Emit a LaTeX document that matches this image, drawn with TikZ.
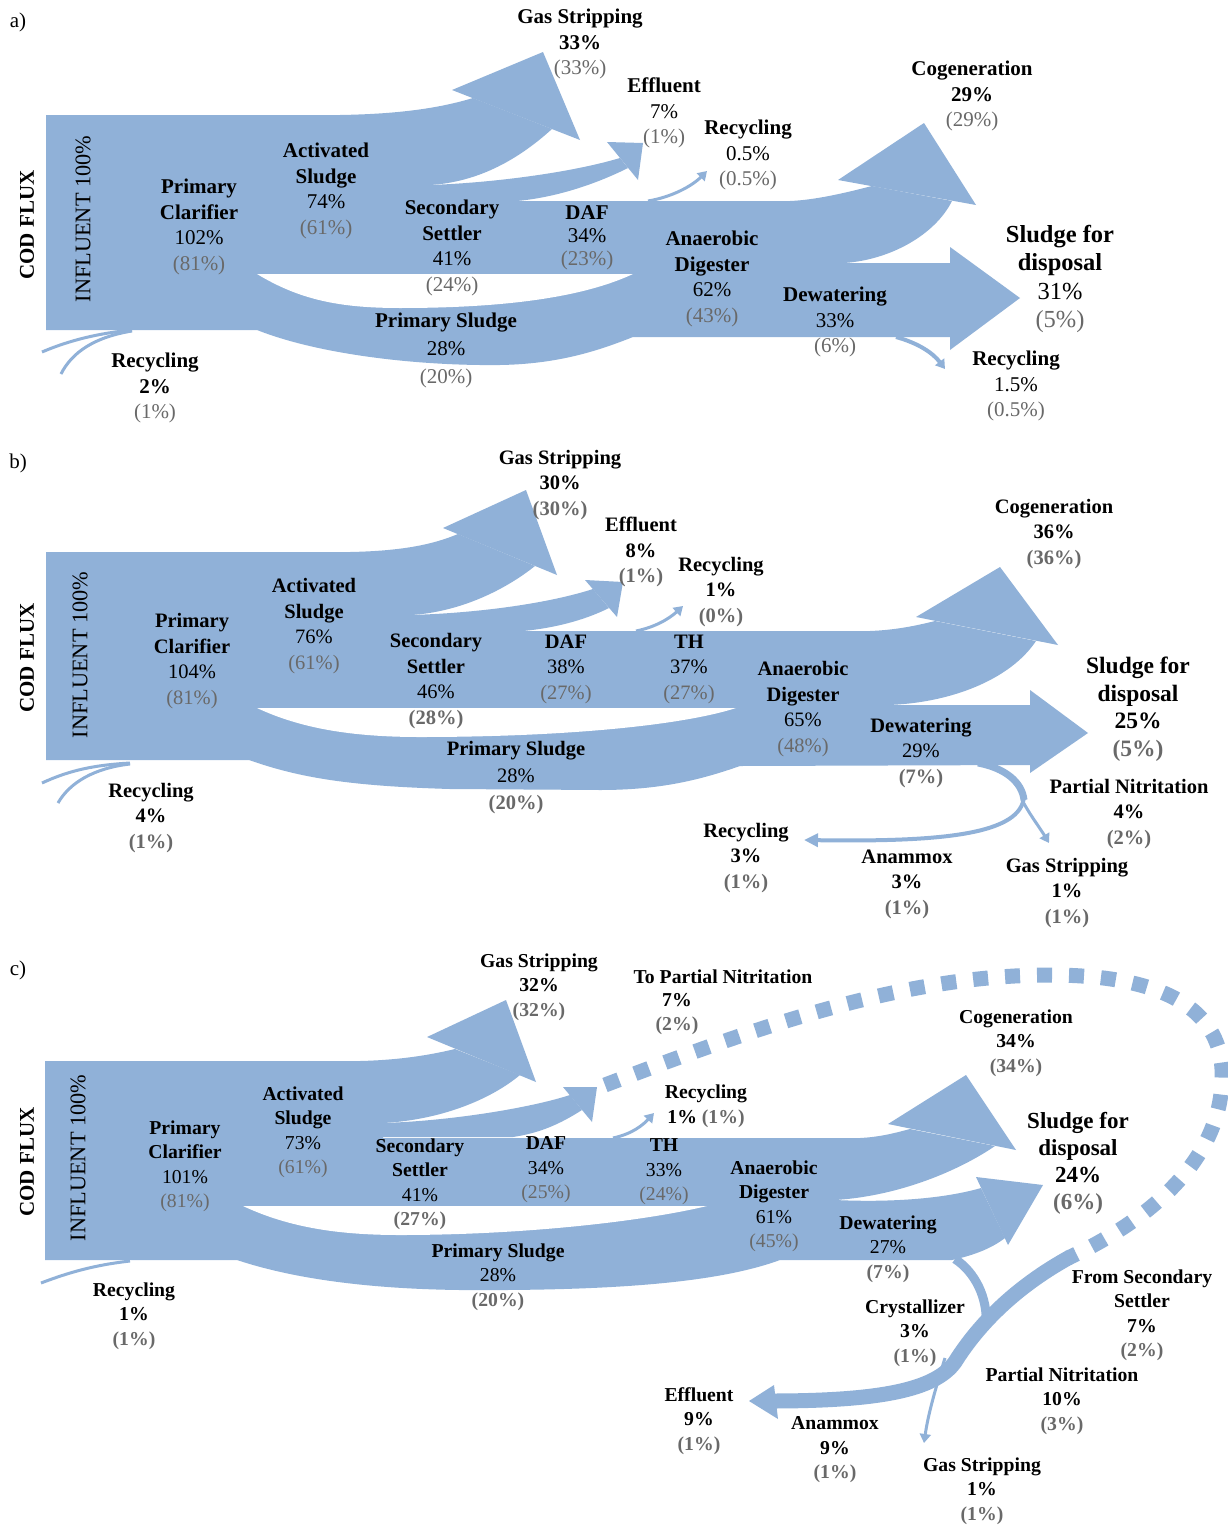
\documentclass[tikz,border=0pt]{standalone}
\usepackage{fontspec}
\setmainfont{Liberation Serif}
\usetikzlibrary{arrows.meta}
\definecolor{flowc}{RGB}{144,177,216}
\definecolor{pgray}{RGB}{105,105,105}
\newcommand{\grp}[1]{\textcolor{pgray}{#1}}
\newcommand{\grb}[1]{\textcolor{pgray}{\textbf{#1}}}
\tikzset{
  flow/.style={fill=flowc, draw=none},
  gap/.style={fill=white, draw=none},
  thinflow/.style={draw=flowc, line width=3pt, -{Triangle[length=9pt,width=11pt]}},
  band/.style={draw=flowc},
  dotband/.style={draw=flowc, line width=15pt, dash pattern=on 15pt off 17pt},
  lab/.style={align=center, inner sep=0pt, font=\fontsize{21}{25.8}\selectfont},
  labb/.style={align=center, inner sep=0pt, font=\fontsize{20.5}{25.5}\selectfont},
  labc/.style={align=center, inner sep=0pt, font=\fontsize{19.7}{24.5}\selectfont},
  big/.style={align=center, inner sep=0pt, font=\fontsize{24.5}{28.5}\selectfont},
  bigb/.style={align=center, inner sep=0pt, font=\fontsize{23.5}{27.5}\selectfont},
  bigc/.style={align=center, inner sep=0pt, font=\fontsize{23}{27}\selectfont},
  side/.style={rotate=90, inner sep=0pt, font=\fontsize{21}{25}\selectfont},
  sider/.style={rotate=90, inner sep=0pt, font=\fontsize{22.3}{25}\selectfont},
}
\begin{document}
\begin{tikzpicture}[x=1pt,y=-1pt]
\useasboundingbox (0,0) rectangle (1227,1528);
\fill[white] (0,0) rectangle (1227,1528);

%% ================= PANEL A =================
% gas stripping
\fill[flow] (46,115) -- (340,115) .. controls (400,114) and (440,108) .. (473,98) -- (552,129)
  .. controls (520,158) and (480,182) .. (430,185) -- (46,185) -- cycle;
\fill[flow] (452,90) -- (543,52) -- (580,140) -- cycle;
% effluent
\fill[flow] (430,185) .. controls (490,183) and (570,173) .. (620,158) -- (628,168)
  .. controls (600,182) and (560,197) .. (517,201) -- (430,201) -- cycle;
\fill[flow] (607,142) -- (643,143) -- (638,180) -- cycle;
% main band
\fill[flow] (46,185) -- (430,185) -- (430,201) -- (790,201) .. controls (815,200) and (845,193) .. (872,186)
  -- (952,201) .. controls (935,235) and (890,260) .. (844,263) -- (950,263) -- (950,247) -- (1020,298)
  -- (950,350) -- (950,337) -- (633,337) .. controls (600,350) and (560,364) .. (500,365)
  .. controls (420,366) and (320,355) .. (257,330) -- (46,330) -- cycle;
\fill[flow] (838,180) -- (924,123) -- (976,205) -- cycle;
\fill[gap] (257,274) -- (633,274) .. controls (590,294) and (520,308) .. (400,308)
  .. controls (340,308) and (300,300) .. (257,274) -- cycle;
% thin flows
\draw[thinflow] (648,201) .. controls (672,197) and (692,186) .. (707,171);
\draw[thinflow, line width=4pt] (896,337) .. controls (918,343) and (933,353) .. (945,369);
\draw[band, line width=3pt] (42,352) .. controls (70,340) and (100,333) .. (132,330);
\draw[band, line width=3pt] (61,374) .. controls (72,352) and (95,337) .. (132,331);

%% ================= PANEL B =================
\fill[flow] (46,552) -- (350,552) .. controls (400,551) and (432,545) .. (458,534) -- (535,566)
  .. controls (505,590) and (460,612) .. (411,615) -- (46,615) -- cycle;
\fill[flow] (443,528) -- (526,490) -- (557,575) -- cycle;
\fill[flow] (411,615) .. controls (480,613) and (550,603) .. (593,589) -- (609,608)
  .. controls (585,620) and (555,628) .. (523,631) -- (411,631) -- cycle;
\fill[flow] (585,580) -- (623,582) -- (617,617) -- cycle;
\fill[flow] (46,615) -- (411,615) -- (411,631) -- (870,631) .. controls (895,630) and (915,626) .. (935,621)
  -- (1036,641) .. controls (1010,680) and (950,703) .. (888,705) -- (1030,705) -- (1030,690) -- (1088,733)
  -- (1030,773) -- (1030,765) -- (740,766) .. controls (700,780) and (660,790) .. (600,790)
  -- (450,789) .. controls (350,786) and (300,778) .. (249,760) -- (46,760) -- cycle;
\fill[flow] (916,617) -- (1000,567) -- (1058,645) -- cycle;
\fill[gap] (257,708) -- (736,708) .. controls (680,726) and (560,737) .. (420,737)
  .. controls (350,737) and (300,728) .. (257,708) -- cycle;
\draw[thinflow] (636,631) .. controls (656,627) and (670,618) .. (683,606);
\draw[band, line width=3pt] (42,783) .. controls (70,770) and (95,765) .. (130,763);
\draw[band, line width=3pt] (58,803) .. controls (70,782) and (95,768) .. (130,764);
\draw[band, line width=7pt] (978,763) .. controls (1005,768) and (1022,782) .. (1024,800);
\draw[thinflow, line width=4pt, -{Triangle[length=14pt,width=13pt]}] (1024,796) .. controls (1022,835) and (940,842) .. (804,840);
\draw[thinflow] (1022,800) .. controls (1030,815) and (1040,828) .. (1049,843);

%% ================= PANEL C =================
\fill[flow] (45,1061) -- (360,1061) .. controls (400,1060) and (430,1055) .. (455,1049) -- (520,1075)
  .. controls (490,1100) and (440,1120) .. (383,1123) -- (45,1123) -- cycle;
\fill[flow] (427,1037) -- (506,1000) -- (536,1082) -- cycle;
\fill[flow] (383,1123) .. controls (450,1121) and (530,1108) .. (570,1095) -- (582,1110)
  .. controls (560,1124) and (540,1133) .. (513,1137) -- (383,1137) -- cycle;
\fill[flow] (563,1087) -- (597,1087) -- (592,1122) -- cycle;
\fill[flow] (45,1123) -- (383,1123) -- (383,1138) -- (860,1138) .. controls (880,1137) and (895,1133) .. (910,1129)
  -- (995,1146) .. controls (960,1170) and (900,1196) .. (835,1200) .. controls (900,1203) and (950,1197) .. (981,1188)
  -- (1005,1238) .. controls (992,1248) and (975,1255) .. (952,1260) -- (780,1260)
  .. controls (720,1282) and (620,1291) .. (460,1290) .. controls (380,1289) and (300,1281) .. (237,1260)
  -- (45,1260) -- cycle;
\fill[flow] (888,1124) -- (966,1075) -- (1016,1150) -- cycle;
\fill[flow] (976,1177) -- (1043,1185) -- (1008,1245) -- cycle;
\fill[gap] (243,1206) -- (707,1206) .. controls (640,1222) and (520,1235) .. (400,1235)
  .. controls (340,1235) and (290,1228) .. (243,1206) -- cycle;
% dotted return
\draw[dotband] (605,1085) .. controls (750,1030) and (900,975) .. (1050,975)
  .. controls (1180,975) and (1225,1020) .. (1222,1080)
  .. controls (1220,1160) and (1150,1220) .. (1068,1258);
% from secondary settler / partial nitritation / anammox
\draw[band, line width=15pt] (1070,1257) .. controls (1010,1290) and (975,1330) .. (955,1362)
  .. controls (935,1390) and (880,1401) .. (770,1401);
\fill[flow] (749,1401) -- (774,1385) -- (778,1419) -- cycle;
\draw[band, line width=9pt] (955,1259) .. controls (975,1272) and (988,1298) .. (986,1325);
\draw[thinflow] (945,1358) .. controls (935,1390) and (928,1415) .. (924,1443);
\draw[thinflow] (613,1138) .. controls (632,1134) and (643,1125) .. (654,1113);
\draw[band, line width=3pt] (41,1283) .. controls (70,1272) and (95,1265) .. (130,1261);

%% ================= LABELS A =================
\node[lab] (pa) at (18,22) {a)};
\node[side] (codA) at (27,225) {\textbf{COD FLUX}};
\node[sider] (infA) at (83,219) {INFLUENT 100\%};
\node[lab] (gsA) at (580,44) {\textbf{Gas Stripping}\\\textbf{33\%}\\\grp{(33\%)}};
\node[lab] (efA) at (664,113) {\textbf{Effluent}\\7\%\\\grp{(1\%)}};
\node[lab] (rcA1) at (748,155) {\textbf{Recycling}\\0.5\%\\\grp{(0.5\%)}};
\node[lab] (cgA) at (972,96) {\textbf{Cogeneration}\\\textbf{29\%}\\\grp{(29\%)}};
\node[big] (sdA) at (1060,279) {\textbf{Sludge for}\\\textbf{disposal}\\31\%\\\grp{(5\%)}};
\node[lab] (rcA2) at (1016,386) {\textbf{Recycling}\\1.5\%\\\grp{(0.5\%)}};
\node[lab] (asA) at (326,191) {\textbf{Activated}\\\textbf{Sludge}\\74\%\\\grp{(61\%)}};
\node[lab] (pcA) at (199,227) {\textbf{Primary}\\\textbf{Clarifier}\\102\%\\\grp{(81\%)}};
\node[lab] (ssA) at (452,248) {\textbf{Secondary}\\\textbf{Settler}\\41\%\\\grp{(24\%)}};
\node[lab, font=\fontsize{21}{23}\selectfont] (dafA) at (587,238) {\textbf{DAF}\\34\%\\\grp{(23\%)}};
\node[lab] (adA) at (712,279) {\textbf{Anaerobic}\\\textbf{Digester}\\62\%\\\grp{(43\%)}};
\node[lab] (dwA) at (835,322) {\textbf{Dewatering}\\33\%\\\grp{(6\%)}};
\node[lab, font=\fontsize{21}{28}\selectfont] (psA) at (446,350) {\textbf{Primary Sludge}\\28\%\\\grp{(20\%)}};
\node[lab] (rcA3) at (155,388) {\textbf{Recycling}\\\textbf{2\%}\\\grp{(1\%)}};

%% ================= LABELS B =================
\node[lab] (pb) at (18,463) {b)};
\node[side] (codB) at (27,658) {\textbf{COD FLUX}};
\node[sider] (infB) at (80,655) {INFLUENT 100\%};
\node[labb] (gsB) at (560,485) {\textbf{Gas Stripping}\\\textbf{30\%}\\\grb{(30\%)}};
\node[labb] (efB) at (641,552) {\textbf{Effluent}\\\textbf{8\%}\\\grb{(1\%)}};
\node[labb] (rcB1) at (721,592) {\textbf{Recycling}\\\textbf{1\%}\\\grb{(0\%)}};
\node[labb] (cgB) at (1054,534) {\textbf{Cogeneration}\\\textbf{36\%}\\\grb{(36\%)}};
\node[bigb] (sdB) at (1138,709) {\textbf{Sludge for}\\\textbf{disposal}\\\textbf{25\%}\\\grb{(5\%)}};
\node[labb] (pnB) at (1129,814) {\textbf{Partial Nitritation}\\\textbf{4\%}\\\grb{(2\%)}};
\node[labb] (gs2B) at (1067,893) {\textbf{Gas Stripping}\\\textbf{1\%}\\\grb{(1\%)}};
\node[labb] (anB) at (907,884) {\textbf{Anammox}\\\textbf{3\%}\\\grb{(1\%)}};
\node[labb] (rcB2) at (746,858) {\textbf{Recycling}\\\textbf{3\%}\\\grb{(1\%)}};
\node[labb] (asB) at (314,626) {\textbf{Activated}\\\textbf{Sludge}\\76\%\\\grp{(61\%)}};
\node[labb] (pcB) at (192,661) {\textbf{Primary}\\\textbf{Clarifier}\\104\%\\\grp{(81\%)}};
\node[labb] (ssB) at (436,681) {\textbf{Secondary}\\\textbf{Settler}\\46\%\\\grb{(28\%)}};
\node[labb] (dafB) at (566,669) {\textbf{DAF}\\38\%\\\grp{(27\%)}};
\node[labb] (thB) at (689,669) {\textbf{TH}\\37\%\\\grp{(27\%)}};
\node[labb] (adB) at (803,709) {\textbf{Anaerobic}\\\textbf{Digester}\\65\%\\\grp{(48\%)}};
\node[labb] (dwB) at (921,753) {\textbf{Dewatering}\\29\%\\\grb{(7\%)}};
\node[labb, font=\fontsize{20.5}{27}\selectfont] (psB) at (516,778) {\textbf{Primary Sludge}\\28\%\\\grb{(20\%)}};
\node[labb] (rcB3) at (151,818) {\textbf{Recycling}\\\textbf{4\%}\\\grb{(1\%)}};

%% ================= LABELS C =================
\node[lab] (pc) at (18,970) {c)};
\node[side] (codC) at (27,1162) {\textbf{COD FLUX}};
\node[sider] (infC) at (78,1158) {INFLUENT 100\%};
\node[labc] (gsC) at (539,987) {\textbf{Gas Stripping}\\\textbf{32\%}\\\grb{(32\%)}};
\node[labc] (tpnC) at (723,977) {\textbf{To Partial Nitritation}};
\node[labc] (tpnCv) at (677,1014) {\textbf{7\%}\\\grb{(2\%)}};
\node[labc] (cgC) at (1016,1043) {\textbf{Cogeneration}\\\textbf{34\%}\\\grb{(34\%)}};
\node[labc] (rcC1) at (706,1106) {\textbf{Recycling}\\\textbf{1\%} \grb{(1\%)}};
\node[bigc] (sdC) at (1078,1163) {\textbf{Sludge for}\\\textbf{disposal}\\\textbf{24\%}\\\grb{(6\%)}};
\node[labc] (asC) at (303,1132) {\textbf{Activated}\\\textbf{Sludge}\\73\%\\\grp{(61\%)}};
\node[labc] (pcC) at (185,1166) {\textbf{Primary}\\\textbf{Clarifier}\\101\%\\\grp{(81\%)}};
\node[labc] (ssC) at (420,1184) {\textbf{Secondary}\\\textbf{Settler}\\41\%\\\grb{(27\%)}};
\node[labc] (dafC) at (546,1170) {\textbf{DAF}\\34\%\\\grp{(25\%)}};
\node[labc] (thC) at (664,1172) {\textbf{TH}\\33\%\\\grp{(24\%)}};
\node[labc] (adC) at (774,1206) {\textbf{Anaerobic}\\\textbf{Digester}\\61\%\\\grp{(45\%)}};
\node[labc] (dwC) at (888,1249) {\textbf{Dewatering}\\27\%\\\grb{(7\%)}};
\node[labc] (psC) at (498,1277) {\textbf{Primary Sludge}\\28\%\\\grb{(20\%)}};
\node[labc] (rcC2) at (134,1316) {\textbf{Recycling}\\\textbf{1\%}\\\grb{(1\%)}};
\node[labc] (fssC) at (1142,1315) {\textbf{From Secondary}\\\textbf{Settler}\\\textbf{7\%}\\\grb{(2\%)}};
\node[labc] (crC) at (915,1333) {\textbf{Crystallizer}\\\textbf{3\%}\\\grb{(1\%)}};
\node[labc] (pnC) at (1062,1401) {\textbf{Partial Nitritation}\\\textbf{10\%}\\\grb{(3\%)}};
\node[labc] (efC) at (699,1421) {\textbf{Effluent}\\\textbf{9\%}\\\grb{(1\%)}};
\node[labc] (anC) at (835,1450) {\textbf{Anammox}\\\textbf{9\%}\\\grb{(1\%)}};
\node[labc] (gs2C) at (982,1491) {\textbf{Gas Stripping}\\\textbf{1\%}\\\grb{(1\%)}};
\end{tikzpicture}
\end{document}
